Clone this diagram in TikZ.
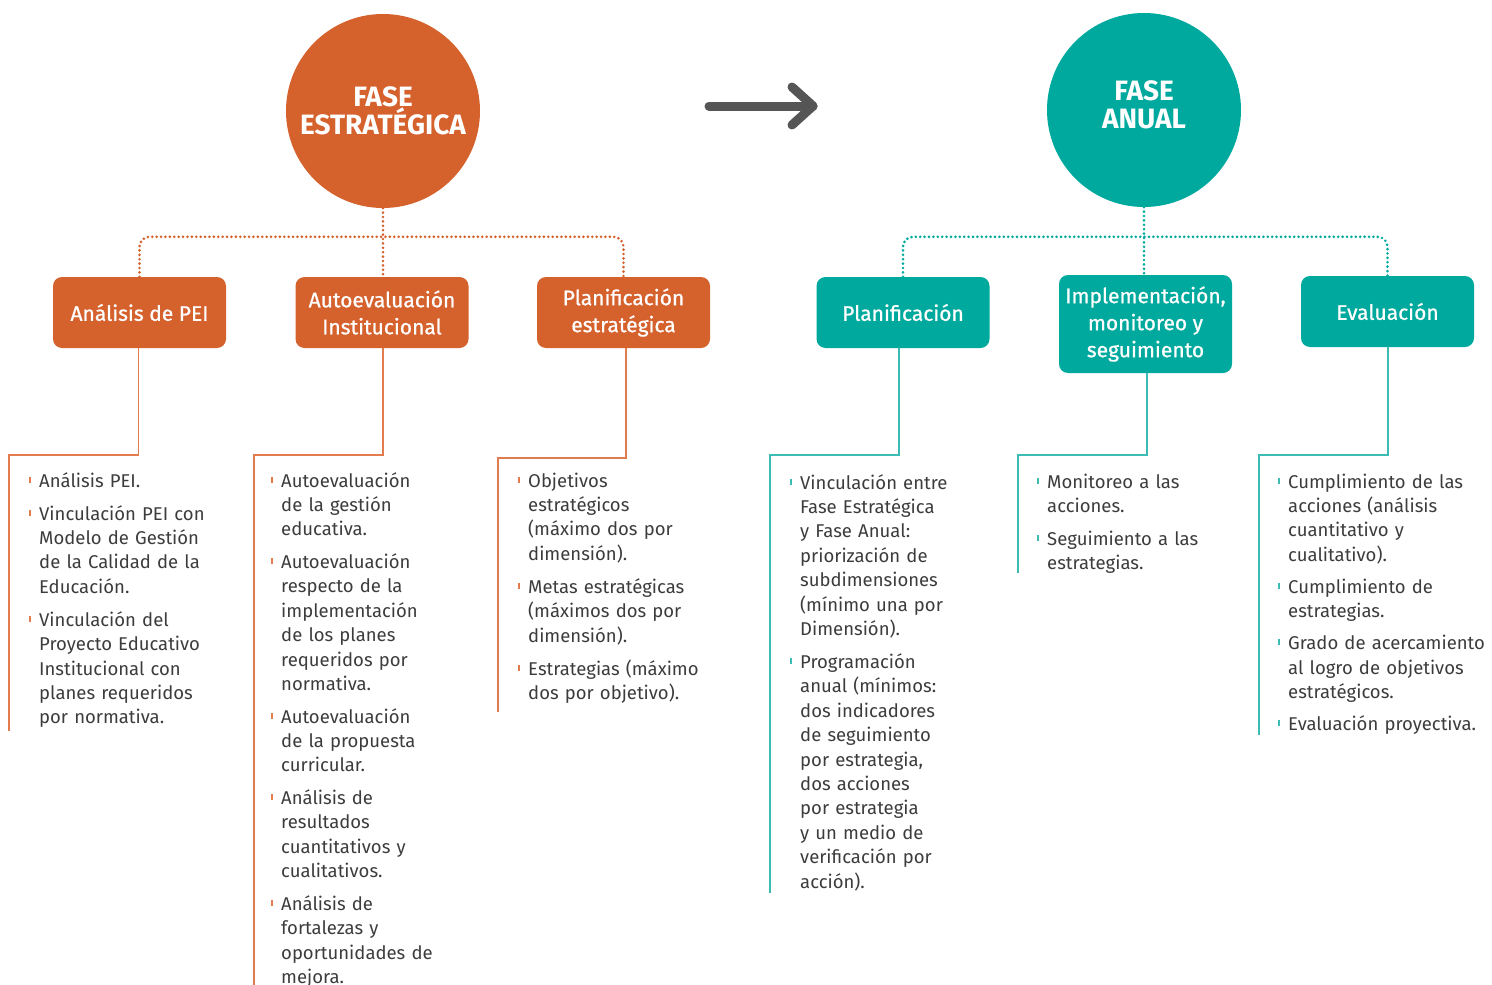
\documentclass[tikz,border=0pt]{standalone}
\usepackage{fontspec}
\setmainfont{Fira Sans}
\newfontface\boxfont{Fira Sans}[FakeBold=0.8]
\definecolor{orng}{HTML}{D5612C}
\definecolor{orngl}{HTML}{E27B4E}
\definecolor{tealc}{HTML}{00A99D}
\definecolor{teall}{HTML}{3DBCB3}
\definecolor{txt}{HTML}{3C3C3C}
\definecolor{arr}{HTML}{555555}
\newcommand\tk[1]{\leavevmode\llap{\textcolor{#1}{\rule[4.5pt]{1.7pt}{6pt}}\hspace{8.5pt}}}
\tikzset{
 phase/.style={circle, minimum size=194pt, inner sep=0pt, text=white, font=\fontsize{28}{28.5}\selectfont\bfseries, align=center},
 pbox/.style={rounded corners=9pt, minimum width=173pt, minimum height=71pt, inner sep=0pt, text=white, font=\fontsize{21}{27}\boxfont, align=center},
 dots/.style={line width=2.9pt, dash pattern=on 0pt off 4.4pt, line cap=round, rounded corners=10pt},
 conn/.style={line width=1.5pt},
 list/.style={anchor=base west, inner sep=0pt, text width=230pt, align=left, text=txt, font=\fontsize{18.5}{24.4}\selectfont},
}
\begin{document}
\begin{tikzpicture}[x=1pt,y=-1pt]
\useasboundingbox (0,0) rectangle (1492,985);
% circles
\node[phase, fill=orng] (fe) at (383,111) {FASE\\ESTRATÉGICA};
\node[phase, fill=tealc, text depth=11pt] (fa) at (1144,110) {FASE\\ANUAL};
% arrow
\coordinate (a1) at (709,106);
\coordinate (a2) at (813,106);
\coordinate (a3) at (792,87);
\coordinate (a4) at (792,125);
\draw[arr, line width=9pt, line cap=round] (a1) -- (a2);
\draw[arr, line width=9pt, line cap=round, line join=round] (a3) -- (a2) -- (a4);
% boxes
\node[pbox, fill=orng] (b1) at (139.5,312.5) {Análisis de PEI};
\node[pbox, fill=orng] (b2) at (382,312.5) {Autoevaluación\\Institucional};
\node[pbox, fill=orng] (b3) at (623.5,312.5) {Planificación\\estratégica};
\node[pbox, fill=tealc] (r1) at (903,312.5) {Planificación};
\node[pbox, fill=tealc, minimum height=98pt] (r2) at (1145.5,324) {Implementación,\\monitoreo y\\seguimiento};
\node[pbox, fill=tealc] (r3) at (1387.5,311.5) {Evaluación};
% dotted connectors
\draw[dots, orng] (fe.south) -- (fe.south |- b2.north);
\draw[dots, orng] (b1.north) -- ++(0,-40) -| (b3.north);
\draw[dots, tealc] (fa.south) -- (fa.south |- r2.north);
\draw[dots, tealc] (r1.north) -- ++(0,-40) -| (r3.north);
% solid connectors
\coordinate (k1) at (9,455);    \coordinate (e1) at (9,731);
\coordinate (k2) at (254,455);  \coordinate (e2) at (254,985);
\coordinate (k3) at (498,458);  \coordinate (e3) at (498,712);
\coordinate (k4) at (770,455);  \coordinate (e4) at (770,893);
\coordinate (k5) at (1018,455); \coordinate (e5) at (1018,573);
\coordinate (k6) at (1259,455); \coordinate (e6) at (1259,735);
\draw[conn, orngl] ([xshift=-1pt]b1.south) |- (k1) -- (e1);
\draw[conn, orngl] ([xshift=1pt]b2.south) |- (k2) -- (e2);
\draw[conn, orngl] ([xshift=2.5pt]b3.south) |- (k3) -- (e3);
\draw[conn, teall] ([xshift=-4pt]r1.south) |- (k4) -- (e4);
\draw[conn, teall] ([xshift=1.5pt]r2.south) |- (k5) -- (e5);
\draw[conn, teall] ([xshift=0.5pt]r3.south) |- (k6) -- (e6);
% lists
\node[list] (l1) at (39,487) {\setlength{\parskip}{8.6pt}%
\tk{orngl}Análisis PEI.\par
\tk{orngl}Vinculación PEI con\\Modelo de Gestión\\de la Calidad de la\\Educación.\par
\tk{orngl}Vinculación del\\Proyecto Educativo\\Institucional con\\planes requeridos\\por normativa.};
\node[list] (l2) at (281,487) {\setlength{\parskip}{8.2pt}%
\tk{orngl}Autoevaluación\\de la gestión\\educativa.\par
\tk{orngl}Autoevaluación\\respecto de la\\implementación\\de los planes\\requeridos por\\normativa.\par
\tk{orngl}Autoevaluación\\de la propuesta\\curricular.\par
\tk{orngl}Análisis de\\resultados\\cuantitativos y\\cualitativos.\par
\tk{orngl}Análisis de\\fortalezas y\\oportunidades de\\mejora.};
\node[list] (l3) at (528,487) {\setlength{\parskip}{8.6pt}%
\tk{orngl}Objetivos\\estratégicos\\(máximo dos por\\dimensión).\par
\tk{orngl}Metas estratégicas\\(máximos dos por\\dimensión).\par
\tk{orngl}Estrategias (máximo\\dos por objetivo).};
\node[list] (l4) at (800,489) {\setlength{\parskip}{8.6pt}%
\tk{teall}Vinculación entre\\Fase Estratégica\\y Fase Anual:\\priorización de\\subdimensiones\\(mínimo una por\\Dimensión).\par
\tk{teall}Programación\\anual (mínimos:\\dos indicadores\\de seguimiento\\por estrategia,\\dos acciones\\por estrategia\\y un medio de\\verificación por\\acción).};
\node[list] (l5) at (1047,488) {\setlength{\parskip}{8.6pt}%
\tk{teall}Monitoreo a las\\acciones.\par
\tk{teall}Seguimiento a las\\estrategias.};
\node[list] (l6) at (1288,488) {\setlength{\parskip}{7.6pt}%
\tk{teall}Cumplimiento de las\\acciones (análisis\\cuantitativo y\\cualitativo).\par
\tk{teall}Cumplimiento de\\estrategias.\par
\tk{teall}Grado de acercamiento\\al logro de objetivos\\estratégicos.\par
\tk{teall}Evaluación proyectiva.};
\end{tikzpicture}
\end{document}
